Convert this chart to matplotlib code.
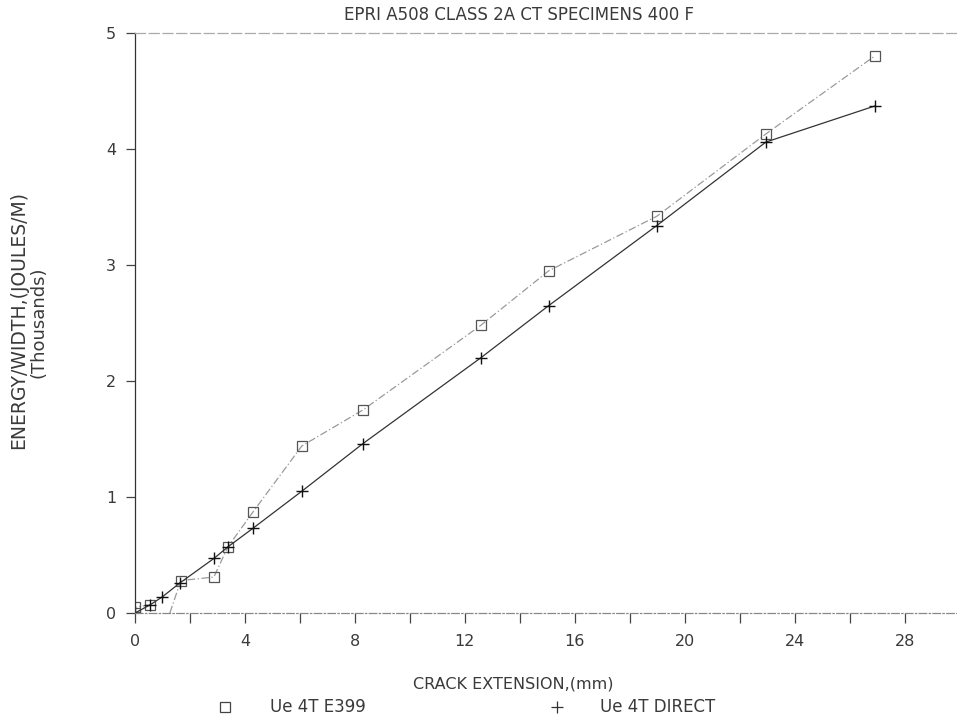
import matplotlib.pyplot as plt
import numpy as np

# crack extension (mm) and energy/width (thousands of J/m)
e399_x = [0.0, 0.0, 0.55, np.nan, 1.27, 1.67, 2.87, 3.38, 4.29, 6.07, 8.29, 12.58, 15.05, 18.98, 22.95, 26.9]
e399_y = [0.0, 0.05, 0.07, np.nan, 0.0, 0.28, 0.31, 0.57, 0.87, 1.44, 1.75, 2.48, 2.95, 3.42, 4.13, 4.80]
e399_marked = [0, 1, 2, 5, 6, 7, 8, 9, 10, 11, 12, 13, 14, 15]

direct_x = [0.0, 0.55, 1.0, 1.64, 2.87, 3.38, 4.29, 6.07, 8.29, 12.58, 15.05, 18.98, 22.95, 26.9]
direct_y = [0.0, 0.07, 0.14, 0.26, 0.47, 0.57, 0.73, 1.05, 1.46, 2.20, 2.65, 3.34, 4.06, 4.37]

x_major = [0, 4, 8, 12, 16, 20, 24, 28]
y_major = [0, 1, 2, 3, 4, 5]

fig = plt.figure(figsize=(9.57, 7.19), dpi=100)
ax = fig.add_axes([0.141, 0.1474, 0.859, 0.8067])

ax.plot(e399_x, e399_y, color="#9a9a9a", lw=0.9, ls=(0, (6, 2, 1, 2)),
        marker="s", markevery=e399_marked, ms=7.5, mfc="none", mec="#555555", mew=0.9)
ax.plot(direct_x, direct_y, color="#333333", lw=0.9,
        marker="+", ms=9, mec="#111111", mew=1.0)

ax.set_xlim(0, 29.9)
ax.set_ylim(0, 5)
ax.set_xticks(x_major)
ax.set_xticks(np.arange(2, 29, 4), minor=True)
ax.set_yticks(y_major)

ax.spines["right"].set_visible(False)
ax.spines["top"].set_linestyle((0, (8, 3)))
ax.spines["top"].set_color("#aaaaaa")
ax.spines["bottom"].set_linestyle((0, (6, 2, 1, 2)))
ax.spines["bottom"].set_color("#888888")
ax.spines["left"].set_color("#333333")
for s in ["top", "bottom", "left"]:
    ax.spines[s].set_linewidth(0.9)

ax.tick_params(axis="x", which="both", direction="out", length=7, width=0.9,
               color="#444444", labelsize=11.5, labelcolor="#3a3a3a", pad=8)
ax.tick_params(axis="y", direction="out", length=6.5, width=0.9,
               color="#444444", labelsize=11.5, labelcolor="#3a3a3a", pad=7)
for lab in ax.get_xticklabels() + ax.get_yticklabels():
    lab.set_family("DejaVu Sans")

txt = dict(color="#3a3a3a", family="DejaVu Sans")
fig.text(0.542, 0.979, "EPRI A508 CLASS 2A CT SPECIMENS 400 F", ha="center", va="center", fontsize=12, **txt)
fig.text(0.536, 0.049, "CRACK EXTENSION,(mm)", ha="center", va="center", fontsize=11.5, **txt)
fig.text(0.019, 0.555, "ENERGY/WIDTH,(JOULES/M)", rotation=90, ha="center", va="center", fontsize=13.5, **txt)
fig.text(0.040, 0.552, "(Thousands)", rotation=90, ha="center", va="center", fontsize=13, **txt)

# legend row under the x label
fig.lines.append(plt.Line2D([0.235], [0.016], transform=fig.transFigure, marker="s", ms=7,
                            mfc="none", mec="#444444", mew=0.9, ls="none"))
fig.text(0.282, 0.016, "Ue 4T E399", ha="left", va="center", fontsize=12, **txt)
fig.lines.append(plt.Line2D([0.582], [0.016], transform=fig.transFigure, marker="+", ms=8,
                            mec="#333333", mew=0.9, ls="none"))
fig.text(0.627, 0.016, "Ue 4T DIRECT", ha="left", va="center", fontsize=12, **txt)

fig.savefig("out.png", dpi=100, facecolor="white")
